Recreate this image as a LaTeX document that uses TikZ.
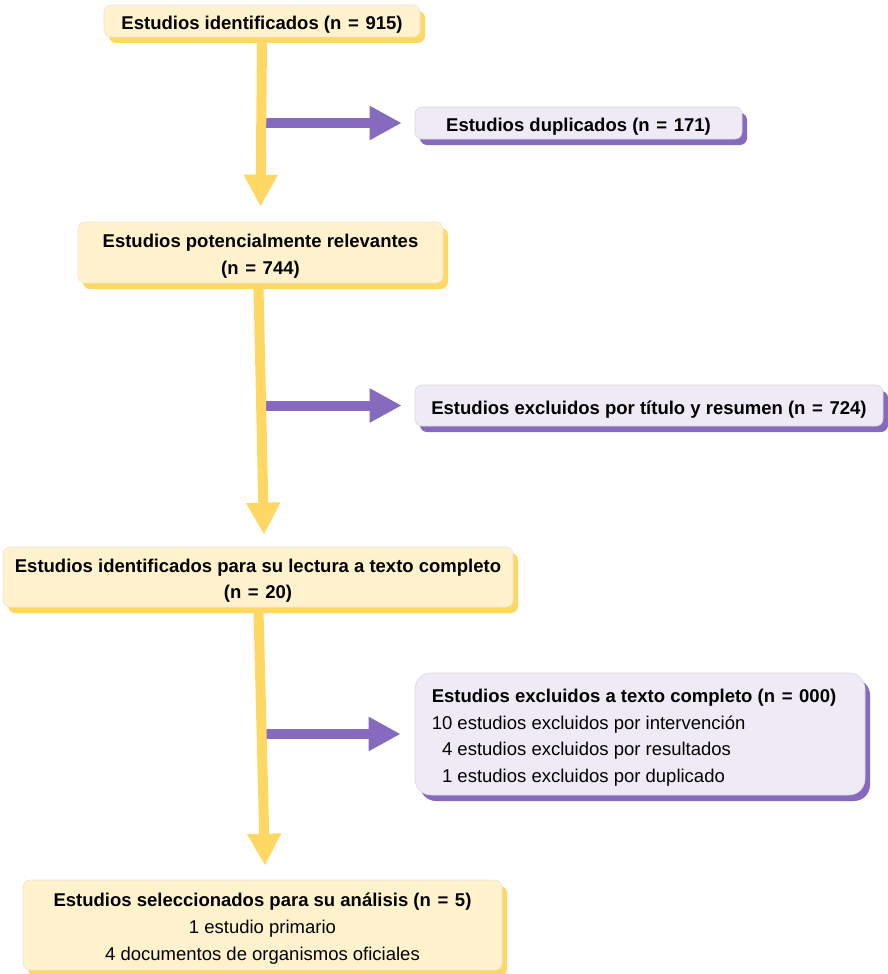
\documentclass[tikz,border=0pt]{standalone}
\usepackage{fontspec}
\setmainfont{Liberation Sans}
\usepackage{xcolor}
\definecolor{ptyellow}{RGB}{255, 242, 204}
\definecolor{ptyellowdk}{RGB}{255, 216, 100}
\definecolor{ptlilac}{RGB}{238, 234, 246}
\definecolor{ptpurple}{RGB}{133, 106, 189}
\usepackage{tikz}
\usetikzlibrary{arrows.meta, positioning, shadows}

\newcommand{\boxfont}{\fontsize{18.5}{26.6}\selectfont}
\newcommand{\toppad}{\rule{0pt}{21pt}}
\newcommand{\nis}[1]{(n\hspace{1.5pt} = \hspace{1.5pt}#1)}

\tikzset{
  ybox/.style={fill=ptyellow, draw=black!10, line width=0.6pt, rounded corners=7pt,
    drop shadow={shadow xshift=5pt, shadow yshift=-6pt, fill=ptyellowdk, opacity=1},
    align=center, inner sep=0pt},
  pbox/.style={fill=ptlilac, draw=black!15, line width=0.6pt, rounded corners=7pt,
    drop shadow={shadow xshift=5pt, shadow yshift=-6pt, fill=ptpurple, opacity=1},
    align=center, inner sep=0pt},
  yarrow/.style={draw=ptyellowdk, line width=10pt, -{Triangle[width=32pt, length=32pt]}},
  parrow/.style={draw=ptpurple, line width=10pt, -{Triangle[width=32pt, length=32pt]}}
}

\begin{document}
\begin{tikzpicture}[x=1pt, y=-1pt, font=\boxfont]
      \useasboundingbox (0,0) rectangle (888,974);

      % main column
      \node[ybox, minimum width=316pt, minimum height=32pt, font=\boxfont\bfseries]
            (ident) at (262,21) {\toppad Estudios identificados \nis{915}};
      \node[ybox, minimum width=365pt, minimum height=61pt, font=\boxfont\bfseries]
            (poten) at (260.5,252.5) {\toppad Estudios potencialmente relevantes\\\nis{744}};
      \node[ybox, minimum width=510pt, minimum height=60pt, font=\boxfont\bfseries]
            (lect) at (258,577) {\toppad Estudios identificados para su lectura a texto completo\\\nis{20}};
      \node[ybox, minimum width=479pt, minimum height=90pt]
            (selec) at (262.5,925)
            {\toppad\textbf{Estudios seleccionados para su análisis \nis{5}}\\
             1 estudio primario\\
             4 documentos de organismos oficiales};

      % exclusions
      \node[pbox, minimum width=327pt, minimum height=32pt, font=\boxfont\bfseries]
            (dupl) at (578.5,123) {\toppad Estudios duplicados \nis{171}};
      \node[pbox, minimum width=468pt, minimum height=41pt, font=\boxfont\bfseries]
            (excla) at (649,405.5) {\toppad Estudios excluidos por título y resumen \nis{724}};
      \node[pbox, rounded corners=16pt, minimum width=450pt,
            minimum height=122pt, align=left]
            (exclb) at (640,734)
            {\toppad\textbf{Estudios excluidos a texto completo \nis{000}}\hspace*{12pt}\\
             10 estudios excluidos por intervención\\
             \hphantom{1}4 estudios excluidos por resultados\\
             \hphantom{1}1 estudios excluidos por duplicado};

      \draw[parrow] (ident.south |- dupl.west) -- ([xshift=-13pt]dupl.west);
      \draw[parrow] (poten.south |- excla.west) -- ([xshift=-13pt]excla.west);
      \draw[parrow] (lect.south |- exclb.west) -- ([xshift=-14pt]exclb.west);

      \draw[yarrow] ([yshift=-4pt]ident.south) -- ([yshift=15pt]poten.north);
      \draw[yarrow] ([xshift=-2pt, yshift=-4pt]poten.south) -- ([xshift=6pt, yshift=12pt]lect.north);
      \draw[yarrow] ([xshift=0.5pt, yshift=-4pt]lect.south) -- ([xshift=2.5pt, yshift=14pt]selec.north);
    \end{tikzpicture}
\end{document}
